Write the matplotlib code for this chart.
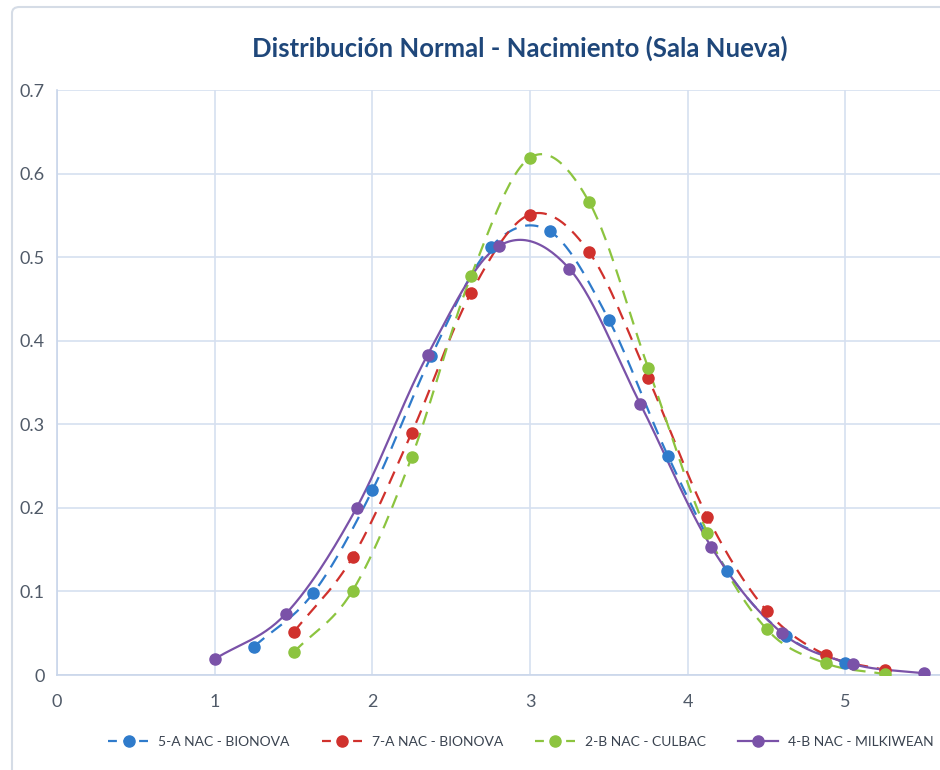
import numpy as np
import matplotlib.pyplot as plt
from matplotlib.patches import FancyBboxPatch
from matplotlib.lines import Line2D

# data
x_blue = [1.25, 1.625, 2.0, 2.375, 2.75, 3.125, 3.5, 3.875, 4.25, 4.625, 5.0]
y_blue = [0.034, 0.098, 0.221, 0.382, 0.512, 0.531, 0.425, 0.262, 0.125, 0.047, 0.014]

x_red = [1.5, 1.875, 2.25, 2.625, 3.0, 3.375, 3.75, 4.125, 4.5, 4.875, 5.25]
y_red = [0.051, 0.141, 0.290, 0.457, 0.551, 0.506, 0.355, 0.189, 0.077, 0.024, 0.006]

x_green = [1.5, 1.875, 2.25, 2.625, 3.0, 3.375, 3.75, 4.125, 4.5, 4.875, 5.25]
y_green = [0.027, 0.101, 0.261, 0.477, 0.619, 0.566, 0.367, 0.170, 0.055, 0.014, 0.001]

x_purple = [1.0, 1.45, 1.9, 2.35, 2.8, 3.25, 3.7, 4.15, 4.6, 5.05, 5.5]
y_purple = [0.019, 0.073, 0.200, 0.383, 0.513, 0.486, 0.324, 0.153, 0.050, 0.013, 0.002]

labels = ['5-A NAC - BIONOVA', '7-A NAC - BIONOVA', '2-B NAC - CULBAC', '4-B NAC - MILKIWEAN']
colors = ['#2F7BCB', '#D0312D', '#8CC43F', '#7A52A8']
styles = ['--', '--', '--', '-']

title = 'Distribución Normal - Nacimiento (Sala Nueva)'
font = ['Lato', 'DejaVu Sans']


def smooth(xs, ys, n=30):
    # Catmull-Rom curve through the points, like Excel's smoothed line
    xs = np.asarray(xs, float)
    ys = np.asarray(ys, float)
    px = np.concatenate(([2 * xs[0] - xs[1]], xs, [2 * xs[-1] - xs[-2]]))
    py = np.concatenate(([2 * ys[0] - ys[1]], ys, [2 * ys[-1] - ys[-2]]))
    t = np.linspace(0, 1, n)[:, None]
    out_x, out_y = [], []
    for i in range(1, len(px) - 2):
        for p, out in ((px, out_x), (py, out_y)):
            p0, p1, p2, p3 = p[i - 1], p[i], p[i + 1], p[i + 2]
            v = 0.5 * ((2 * p1) + (-p0 + p2) * t + (2 * p0 - 5 * p1 + 4 * p2 - p3) * t ** 2
                       + (-p0 + 3 * p1 - 3 * p2 + p3) * t ** 3)
            out.append(v.ravel())
    return np.concatenate(out_x), np.concatenate(out_y)


plt.rcParams['font.family'] = font

fig = plt.figure(figsize=(9.4, 7.7), dpi=100)
fig.patches.append(FancyBboxPatch((12 / 940, -0.05), 1.2, 1.05 - 7 / 770, boxstyle='round,pad=0,rounding_size=0.008',
                                  transform=fig.transFigure, fill=False, edgecolor='#D5DCE6', linewidth=1.5))
ax = fig.add_axes([57 / 940, 1 - 675 / 770, 1 - 57 / 940, (675 - 90) / 770])

series = [(x_blue, y_blue), (x_red, y_red), (x_green, y_green), (x_purple, y_purple)]
handles = []
for (xs, ys), lab, c, ls in zip(series, labels, colors, styles):
    sx, sy = smooth(xs, ys)
    if ls == '--':
        ax.plot(sx, sy, color=c, linestyle=(0, (6, 4)), linewidth=1.6, zorder=3)
    else:
        ax.plot(sx, sy, color=c, linestyle='-', linewidth=1.6, zorder=3)
    ax.plot(xs, ys, 'o', color=c, markersize=8, zorder=4)
    handles.append(Line2D([], [], color=c, linestyle=(0, (4, 3)) if ls == '--' else '-', linewidth=1.6,
                          marker='o', markersize=8, label=lab))

ax.set_xlim(0, 5.6)
ax.set_ylim(0, 0.7)
ax.set_xticks([0, 1, 2, 3, 4, 5])
ax.set_yticks(np.arange(0, 0.71, 0.1))
ax.set_yticklabels(['0', '0.1', '0.2', '0.3', '0.4', '0.5', '0.6', '0.7'])
ax.grid(True, color='#D6E0F0', linewidth=1.2)
ax.set_axisbelow(True)
for s in ['top', 'right']:
    ax.spines[s].set_visible(False)
for s in ['left', 'bottom']:
    ax.spines[s].set_color('#C9D6EA')
    ax.spines[s].set_linewidth(1.2)
ax.tick_params(length=0, labelsize=13, labelcolor='#505A68', pad=14)
ax.tick_params(axis='y', pad=9)

fig.text(520 / 940, 1 - 48 / 770, title, ha='center', va='center', fontsize=18.5, fontweight='bold', color='#1F477A')

fig.legend(handles=handles, loc='center', bbox_to_anchor=(521 / 940, 1 - 742 / 770), ncol=4, frameon=False,
           fontsize=10, handlelength=2.9, columnspacing=2.3, handletextpad=0.7, labelcolor='#3A4350')

fig.savefig('out.png', dpi=100)
